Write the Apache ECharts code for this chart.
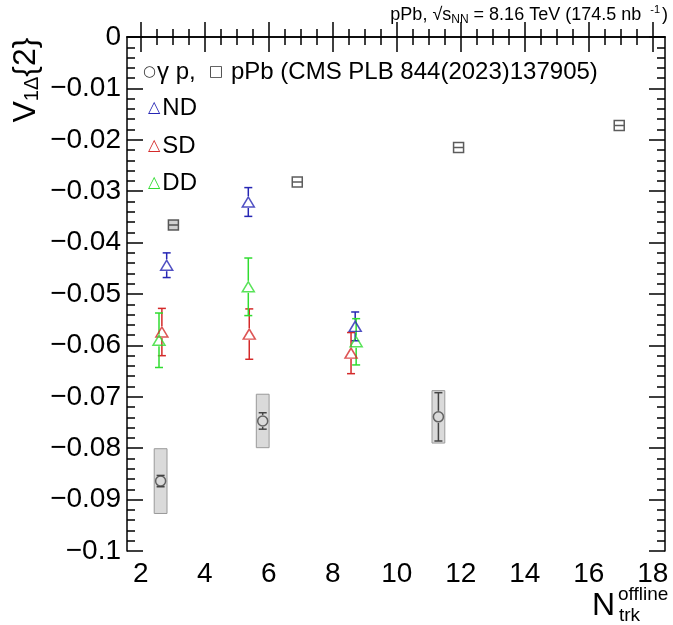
<!DOCTYPE html>
<html>
<head>
<meta charset="utf-8">
<script src="https://cdn.jsdelivr.net/npm/echarts@6/dist/echarts.min.js"></script>
<style>
  html, body { margin: 0; padding: 0; background: #fff; }
  #chart { width: 673px; height: 625px; }
</style>
</head>
<body>
<div id="chart"></div>
<script>
// gamma p points, stat error and systematic half height
const gpX = [2.62, 5.81, 11.30]
const gpY = [-0.0864, -0.0747, -0.0739]
const gpStat = [0.0011, 0.0016, 0.0047]
const gpSys = [0.0063, 0.0052, 0.0051]

// pPb reference points (CMS PLB 844(2023)137905)
const pPbX = [3.02, 6.89, 11.93, 16.95]
const pPbY = [-0.0366, -0.0282, -0.0215, -0.0172]

// ND / SD / DD
const ndX = [2.81, 5.36, 8.70]
const ndY = [-0.0444, -0.0321, -0.0563]
const ndErr = [0.0024, 0.0028, 0.0028]
const sdX = [2.66, 5.39, 8.57]
const sdY = [-0.0574, -0.0578, -0.0615]
const sdErr = [0.0046, 0.0049, 0.0040]
const ddX = [2.57, 5.36, 8.73]
const ddY = [-0.0590, -0.0486, -0.0593]
const ddErr = [0.0053, 0.0056, 0.0045]

// axis ticks
const xTicks = [2, 4, 6, 8, 10, 12, 14, 16, 18]
const xMin = 1.57
const xMax = 18.38
const yMin = -0.1
const yMax = 0

const FONT = 'Liberation Sans'
const color = { nd: '#2626b4', sd: '#d42a2a', dd: '#30dc30', gp: '#444', pPb: '#333' }

let xMinor = []
for (let v = 2; v <= 18; v += 0.5) {
  if (v % 2 !== 0) xMinor.push(v)
}

let myChart = echarts.init(document.getElementById('chart'))

function errBar(col) {
  return function (params, api) {
    let x = api.value(0), y = api.value(1), e = api.value(2)
    let c = api.coord([x, y])
    let top = api.coord([x, y + e])
    let bot = api.coord([x, y - e])
    let gap = 6, cap = 4
    let st = { stroke: col, lineWidth: 1.5 }
    let ch = []
    if (c[1] - top[1] > gap) ch.push({ type: 'line', shape: { x1: c[0], y1: top[1], x2: c[0], y2: c[1] - gap }, style: st })
    if (bot[1] - c[1] > gap) ch.push({ type: 'line', shape: { x1: c[0], y1: c[1] + gap, x2: c[0], y2: bot[1] }, style: st })
    ch.push({ type: 'line', shape: { x1: c[0] - cap, y1: top[1], x2: c[0] + cap, y2: top[1] }, style: st })
    ch.push({ type: 'line', shape: { x1: c[0] - cap, y1: bot[1], x2: c[0] + cap, y2: bot[1] }, style: st })
    return { type: 'group', children: ch }
  }
}

function sysBox(params, api) {
  let x = api.value(0), y = api.value(1), s = api.value(2)
  let p1 = api.coord([x - 0.2, y + s])
  let p2 = api.coord([x + 0.2, y - s])
  return {
    type: 'rect',
    shape: { x: p1[0], y: p1[1], width: p2[0] - p1[0], height: p2[1] - p1[1] },
    style: { fill: '#dadada', stroke: '#9a9a9a', lineWidth: 1 }
  }
}

function triSeries(name, xs, ys, col) {
  return {
    type: 'scatter',
    name: name,
    symbol: 'triangle',
    symbolSize: [12, 10],
    data: xs.map((x, i) => [x, ys[i]]),
    itemStyle: { color: 'rgba(0,0,0,0)', borderColor: col, borderWidth: 1.5 },
    z: 5
  }
}

function errSeries(xs, ys, es, col) {
  return {
    type: 'custom',
    renderItem: errBar(col),
    data: xs.map((x, i) => [x, ys[i], es[i]]),
    z: 4
  }
}

function legendLine(label, col, y) {
  return {
    type: 'text', x: 148, y: y,
    style: {
      text: '{m|\u25B3}{t|' + label + '}', verticalAlign: 'middle',
      rich: {
        m: { fontSize: 16, fontFamily: 'DejaVu Sans', fill: col, padding: [0, 2, 0, 0] },
        t: { fontSize: 24, fontFamily: FONT, fill: '#000' }
      }
    }
  }
}

let axisLine = { show: true, lineStyle: { color: '#000', width: 1.5 } }

let option = {
  animation: false,
  grid: { left: 127, top: 37, width: 538, height: 514 },
  xAxis: [
    {
      type: 'value', min: xMin, max: xMax, position: 'bottom',
      axisLine: axisLine,
      axisTick: { inside: true, length: 15, customValues: xTicks, lineStyle: { color: '#000', width: 1.5 } },
      axisLabel: { customValues: xTicks, fontSize: 28, color: '#000', fontFamily: FONT, margin: 9 },
      splitLine: { show: false }
    },
    {
      type: 'value', min: xMin, max: xMax, position: 'bottom',
      axisLine: { show: false },
      axisTick: { inside: true, length: 8, customValues: xMinor, lineStyle: { color: '#000', width: 1.5 } },
      axisLabel: { show: false },
      splitLine: { show: false }
    },
    {
      type: 'value', min: xMin, max: xMax, position: 'top',
      axisLine: axisLine,
      axisTick: { inside: true, length: 15, customValues: xTicks, lineStyle: { color: '#000', width: 1.5 } },
      axisLabel: { show: false },
      splitLine: { show: false }
    },
    {
      type: 'value', min: xMin, max: xMax, position: 'top',
      axisLine: { show: false },
      axisTick: { inside: true, length: 8, customValues: xMinor, lineStyle: { color: '#000', width: 1.5 } },
      axisLabel: { show: false },
      splitLine: { show: false }
    }
  ],
  yAxis: [
    {
      type: 'value', min: yMin, max: yMax, interval: 0.01, position: 'left',
      axisLine: axisLine,
      axisTick: { inside: true, length: 16, lineStyle: { color: '#000', width: 1.5 } },
      minorTick: { show: true, splitNumber: 5, length: 8, lineStyle: { color: '#000', width: 1.5 } },
      axisLabel: {
        fontSize: 28, color: '#000', fontFamily: FONT, margin: 6,
        formatter: function (v) { return String(+v.toFixed(2)).replace('-', '\u2212') }
      },
      splitLine: { show: false }
    },
    {
      type: 'value', min: yMin, max: yMax, interval: 0.01, position: 'right',
      axisLine: axisLine,
      axisTick: { inside: true, length: 16, lineStyle: { color: '#000', width: 1.5 } },
      minorTick: { show: true, splitNumber: 5, length: 8, lineStyle: { color: '#000', width: 1.5 } },
      axisLabel: { show: false },
      splitLine: { show: false }
    }
  ],
  graphic: [
    {
      type: 'text', right: 5, top: 4,
      style: {
        text: '{a|pPb, \u221A}{a|s}{sub|NN}{a| = 8.16 TeV (174.5 nb }{sup|-1}{a|)}',
        rich: {
          a: { fontSize: 18, fontFamily: FONT, fill: '#000', verticalAlign: 'middle' },
          sub: { fontSize: 12, fontFamily: FONT, fill: '#000', verticalAlign: 'bottom', padding: [10, 0, 0, 0] },
          sup: { fontSize: 11, fontFamily: FONT, fill: '#000', verticalAlign: 'top', padding: [0, 2, 8, 4] }
        }
      }
    },
    {
      type: 'text', x: 143, y: 72,
      style: {
        text: '{m|\u25CB}{t|\u03B3 p,  }{m|\u25A1}{t| pPb (CMS PLB 844(2023)137905)}',
        verticalAlign: 'middle',
        rich: {
          m: { fontSize: 15, fontFamily: 'DejaVu Sans', fill: '#333', padding: [0, 1, 0, 0] },
          t: { fontSize: 24, fontFamily: FONT, fill: '#000' }
        }
      }
    },
    legendLine('ND', color.nd, 108),
    legendLine('SD', color.sd, 146),
    legendLine('DD', color.dd, 183),
    {
      type: 'text', x: 26, y: 80, rotation: Math.PI / 2,
      style: {
        text: '{v|V}{sub|1\u0394}{2}',
        fontSize: 32, fontFamily: FONT, fill: '#000',
        align: 'center', verticalAlign: 'middle',
        rich: {
          v: { fontSize: 32, fontFamily: FONT, fill: '#000' },
          sub: { fontSize: 20, fontFamily: FONT, fill: '#000', verticalAlign: 'bottom', padding: [12, 0, 0, 0] }
        }
      }
    },
    { type: 'text', x: 592, y: 590, style: { text: 'N', fontSize: 32, fontFamily: FONT, fill: '#000' } },
    { type: 'text', x: 618, y: 585, style: { text: 'offline', fontSize: 19, fontFamily: FONT, fill: '#000' } },
    { type: 'text', x: 619, y: 606, style: { text: 'trk', fontSize: 19, fontFamily: FONT, fill: '#000' } }
  ],
  series: [
    {
      type: 'custom',
      renderItem: sysBox,
      data: gpX.map((x, i) => [x, gpY[i], gpSys[i]]),
      z: 1
    },
    errSeries(gpX, gpY, gpStat, color.gp),
    {
      type: 'scatter',
      name: 'gamma p',
      symbol: 'circle',
      symbolSize: 10,
      data: gpX.map((x, i) => [x, gpY[i]]),
      itemStyle: { color: 'rgba(0,0,0,0)', borderColor: color.gp, borderWidth: 1.5 },
      z: 5
    },
    {
      type: 'scatter',
      name: 'pPb',
      symbol: 'path://M0,0H10V10H0Z M0,5H10',
      symbolSize: 10,
      data: pPbX.map((x, i) => ({ value: [x, pPbY[i]], itemStyle: i === 0 ? { color: '#c4c4c4' } : {} })),
      itemStyle: { color: 'rgba(0,0,0,0)', borderColor: color.pPb, borderWidth: 1.5 },
      z: 5
    },
    errSeries(ndX, ndY, ndErr, color.nd),
    triSeries('ND', ndX, ndY, color.nd),
    errSeries(sdX, sdY, sdErr, color.sd),
    triSeries('SD', sdX, sdY, color.sd),
    errSeries(ddX, ddY, ddErr, color.dd),
    triSeries('DD', ddX, ddY, color.dd)
  ]
}

myChart.setOption(option)
window.addEventListener('resize', function () {
  myChart.resize()
})
</script>
</body>
</html>
